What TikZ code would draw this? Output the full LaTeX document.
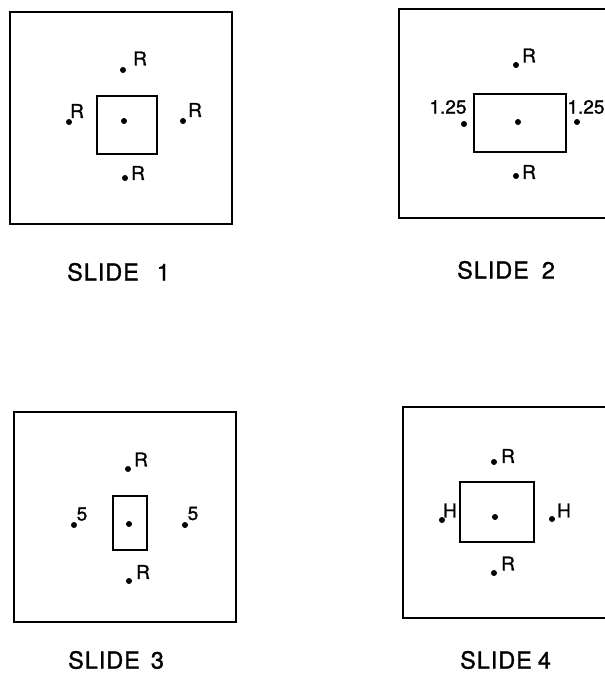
\documentclass[tikz,border=0pt]{standalone}
\usepackage{fontspec}
\setmainfont{TeX Gyre Heros}
\newfontfamily\lettering[LetterSpace=4,FakeBold=1.2]{TeX Gyre Heros}
\newfontfamily\tagfont[FakeBold=1.2]{TeX Gyre Heros}
\tikzset{
  frame/.style={line width=1.4pt},
  tag/.style={font=\tagfont\fontsize{19}{20}\selectfont, inner sep=0pt},
  caption/.style={font=\lettering\fontsize{23.5}{25}\selectfont, inner sep=0pt, anchor=west},
}
\begin{document}
\begin{tikzpicture}[x=1pt, y=-1pt]
  \useasboundingbox (0,0) rectangle (605,675);
  \clip (0,0) rectangle (605,675);

  % Slide 1: square window, R all round
  \begin{scope}[shift={(124,121)}]
    \draw[frame] (-114,-109) rectangle (108,103);
    \draw[frame] (-27,-25) rectangle (33,33);
    \fill (0,0) circle (3);
    \fill (-1,-51) circle (3);
    \fill (-55,1) circle (3);
    \fill (59,0) circle (3);
    \fill (1,57) circle (3);
    \node[tag] (s1top) at (16,-62.5) {R};
    \node[tag] (s1left) at (-47,-10) {R};
    \node[tag] (s1right) at (71,-11) {R};
    \node[tag] (s1bot) at (14,52) {R};
    \node[caption] (cap1) at (-57,151) {SLIDE\hspace{18pt}1};
  \end{scope}

  % Slide 2: wide window, 1.25 at the sides
  \begin{scope}[shift={(518,122)}]
    \draw[frame] (-119,-113) rectangle (94,96);
    \draw[frame] (-44,-28) rectangle (48,30);
    \fill (0,0) circle (3);
    \fill (-2,-57) circle (3);
    \fill (-2,54) circle (3);
    \fill (-54,2) circle (3);
    \fill (59,0) circle (3);
    \node[tag] (s2top) at (11,-66.5) {R};
    \node[tag] (s2bot) at (11,50) {R};
    \node[tag] (s2left) at (-70,-15) {1.25};
    \node[tag] (s2right) at (68,-15) {1.25};
    \node[caption] (cap2) at (-61,148) {SLIDE\hspace{13pt}2};
  \end{scope}

  % Slide 3: narrow window, .5 at the sides
  \begin{scope}[shift={(129,524)}]
    \draw[frame] (-115,-112) rectangle (107,98);
    \draw[frame] (-16,-28) rectangle (18,26);
    \fill (0,0) circle (3);
    \fill (-1,-55) circle (3);
    \fill (0,57) circle (3);
    \fill (-55,1) circle (3);
    \fill (56,1) circle (3);
    \node[tag] (s3top) at (12,-64.5) {R};
    \node[tag] (s3bot) at (14,48) {R};
    \node[tag] (s3left) at (-47,-10) {5};
    \node[tag] (s3right) at (64,-10.5) {5};
    \node[caption] (cap3) at (-61,136) {SLIDE\hspace{11pt}3};
  \end{scope}

  % Slide 4: window with H at the sides
  \begin{scope}[shift={(495,517)}]
    \draw[frame] (-92,-110) rectangle (117,101);
    \draw[frame] (-35,-35) rectangle (39,25);
    \fill (0,0) circle (3);
    \fill (-1,-55) circle (3);
    \fill (-1,56) circle (3);
    \fill (-53,3) circle (3);
    \fill (57,2) circle (3);
    \node[tag] (s4top) at (13,-61) {R};
    \node[tag] (s4bot) at (13,46.5) {R};
    \node[tag] (s4left) at (-45,-6.5) {H};
    \node[tag] (s4right) at (69,-6.5) {H};
    \node[caption] (cap4) at (-35,143) {SLIDE\hspace{6pt}4};
  \end{scope}
\end{tikzpicture}
\end{document}
